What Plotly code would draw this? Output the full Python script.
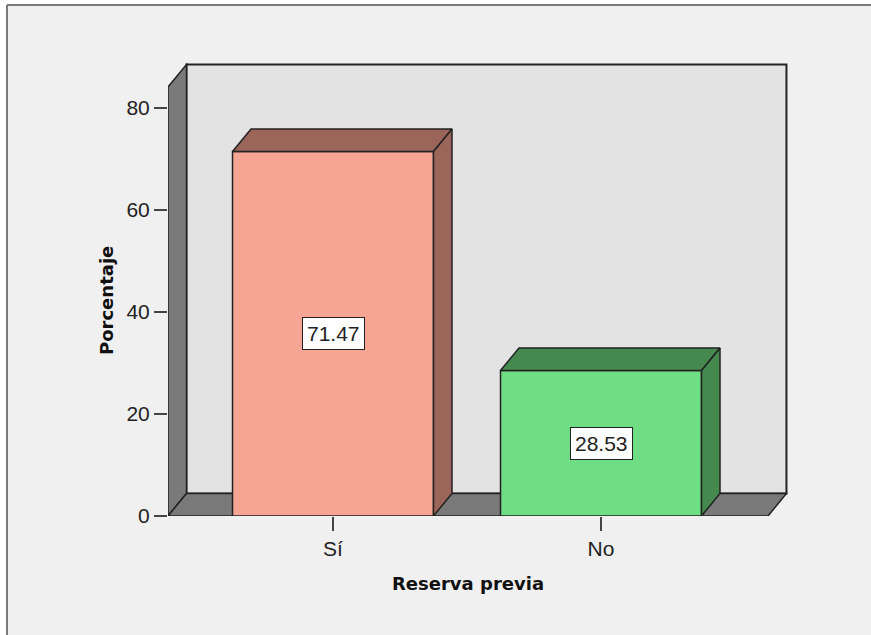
import plotly.graph_objects as go

# ---- data ----
categories = ["Sí", "No"]
values = [71.47, 28.53]
labels = ["71.47", "28.53"]
front_colors = ["#F6A493", "#6EDD84"]
dark_colors = ["#9B655A", "#45894F"]
y_ticks = [0, 20, 40, 60, 80]
x_title = "Reserva previa"
y_title = "Porcentaje"

# ---- geometry (axis units) ----
xpos = list(range(len(categories)))
BAR_W = 0.75
X_LEFT, X_RIGHT = -0.6157, 1.623      # floor front edge
X_MAX = 1.7052
Y_TOP, Y_MAX = 84.1, 89.4
DX, DY = 0.069, 4.41                  # depth offset
EDGE = "#222222"

W, H = 871, 635
ML, MR, MT, MB = 168, 81, 60, 119
PW, PH = W - ML - MR, H - MT - MB


def px_x(p):
    return (p - ML) / PW


def px_y(p):
    return (H - MB - p) / PH


fig = go.Figure()

# front faces of bars
fig.add_trace(go.Bar(
    x=xpos, y=values, width=BAR_W,
    marker=dict(color=front_colors, line=dict(color=EDGE, width=1.5)),
    hoverinfo="skip", showlegend=False))

# top and side faces
for c, v, dc in zip(xpos, values, dark_colors):
    l, r = c - BAR_W / 2, c + BAR_W / 2
    fig.add_trace(go.Scatter(
        x=[l, r, r + DX, l + DX, l], y=[v, v, v + DY, v + DY, v],
        mode="lines", fill="toself", fillcolor=dc,
        line=dict(color=EDGE, width=1.5), hoverinfo="skip", showlegend=False))
    fig.add_trace(go.Scatter(
        x=[r, r + DX, r + DX, r, r], y=[0, DY, v + DY, v, 0],
        mode="lines", fill="toself", fillcolor=dc,
        line=dict(color=EDGE, width=1.5), hoverinfo="skip", showlegend=False))

FX0, FY1 = px_x(7), px_y(5)
PX0, PX1, PY0, PY1 = px_x(0), px_x(W), px_y(H), px_y(0)
shapes = []
# back wall
shapes.append(dict(type="path", xref="x", yref="y", layer="below",
                   path=f"M{X_LEFT+DX},{DY} L{X_RIGHT+DX},{DY} L{X_RIGHT+DX},{Y_TOP+DY} L{X_LEFT+DX},{Y_TOP+DY} Z",
                   fillcolor="#E3E3E3", line=dict(color=EDGE, width=2)))
# left wall
shapes.append(dict(type="path", xref="x", yref="y", layer="below",
                   path=f"M{X_LEFT},0 L{X_LEFT+DX},{DY} L{X_LEFT+DX},{Y_TOP+DY} L{X_LEFT},{Y_TOP} Z",
                   fillcolor="#7A7A7A", line=dict(color=EDGE, width=1.5)))
# floor
shapes.append(dict(type="path", xref="x", yref="y", layer="below",
                   path=f"M{X_LEFT},0 L{X_RIGHT},0 L{X_RIGHT+DX},{DY} L{X_LEFT+DX},{DY} Z",
                   fillcolor="#7A7A7A", line=dict(color=EDGE, width=1.5)))
# outer frame (drawn on top, in areas free of marks)
shapes.append(dict(type="rect", xref="paper", yref="paper", layer="above",
                   x0=px_x(850), x1=PX1, y0=PY0, y1=PY1,
                   fillcolor="#F0F0F0", line=dict(width=0)))
shapes.append(dict(type="rect", xref="paper", yref="paper", layer="above",
                   x0=PX0, x1=PX1, y0=FY1, y1=PY1,
                   fillcolor="white", line=dict(width=0)))
shapes.append(dict(type="rect", xref="paper", yref="paper", layer="above",
                   x0=PX0, x1=FX0, y0=PY0, y1=PY1,
                   fillcolor="white", line=dict(width=0)))
shapes.append(dict(type="line", xref="paper", yref="paper", layer="above",
                   x0=FX0, x1=PX1, y0=FY1, y1=FY1,
                   line=dict(color="#7A7A7A", width=2)))
shapes.append(dict(type="line", xref="paper", yref="paper", layer="above",
                   x0=FX0, x1=FX0, y0=PY0, y1=FY1,
                   line=dict(color="#7A7A7A", width=2)))

TITLE_FONT = dict(family="DejaVu Sans, sans-serif", size=18, color="#111111")

annotations = []
for c, v, t in zip(xpos, values, labels):
    annotations.append(dict(x=c, y=v / 2, xref="x", yref="y", text=t,
                            showarrow=False, bgcolor="white",
                            bordercolor=EDGE, borderwidth=1, borderpad=4,
                            font=dict(size=21, color="#222222")))
annotations.append(dict(x=px_x(468), y=px_y(583), xref="paper", yref="paper",
                        text=f"<b>{x_title}</b>", showarrow=False,
                        xanchor="center", yanchor="middle", font=TITLE_FONT))
annotations.append(dict(x=px_x(106), y=px_y(301), xref="paper", yref="paper",
                        text=f"<b>{y_title}</b>", showarrow=False, textangle=-90,
                        xanchor="center", yanchor="middle", font=TITLE_FONT))

fig.update_layout(
    width=W, height=H,
    margin=dict(l=ML, r=MR, t=MT, b=MB),
    paper_bgcolor="#F0F0F0", plot_bgcolor="rgba(0,0,0,0)",
    font=dict(family="Liberation Sans, Arial, sans-serif", color="#222222"),
    shapes=shapes, annotations=annotations,
    xaxis=dict(range=[X_LEFT, X_MAX], tickvals=xpos, ticktext=categories,
               ticks="outside", ticklen=14, tickwidth=2, tickcolor="#444",
               showgrid=False, zeroline=False, showline=False,
               tickfont=dict(size=21)),
    yaxis=dict(range=[0, Y_MAX], tickvals=y_ticks,
               ticks="outside", ticklen=13, tickwidth=2, tickcolor="#444",
               showgrid=False, zeroline=False, showline=False,
               tickfont=dict(size=21)),
)

fig.write_html("out.html", config={"displayModeBar": False})
